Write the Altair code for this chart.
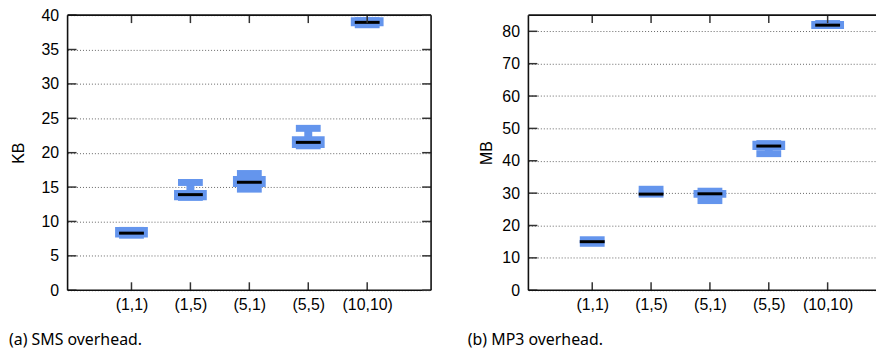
import altair as alt
import pandas as pd
import numpy as np

cats = ["(1,1)", "(1,5)", "(5,1)", "(5,5)", "(10,10)"]
pos = [1, 2, 3, 4, 5]

# SMS overhead (KB)
sms_median = [8.3, 13.9, 15.7, 21.5, 38.95]
sms_box_lo = [7.65, 13.1, 15.02, 20.69, 38.4]
sms_box_hi = [9.2, 14.58, 16.61, 22.38, 39.7]
sms_w_lo = [8.0, 13.5, 14.7, 21.0, 38.6]
sms_w_hi = [8.7, 15.67, 16.97, 23.54, 39.2]

# MP3 overhead (MB)
mp3_median = [15.0, 29.7, 29.8, 44.55, 81.9]
mp3_box_lo = [np.nan, np.nan, 28.6, 43.3, 80.7]
mp3_box_hi = [np.nan, np.nan, 31.0, 46.2, 83.2]
mp3_w_lo = [14.5, 29.7, 27.7, 42.2, 81.8]
mp3_w_hi = [15.6, 31.2, 30.6, 45.3, 82.4]

sms_yticks = [0, 5, 10, 15, 20, 25, 30, 35, 40]
mp3_yticks = [0, 10, 20, 30, 40, 50, 60, 70, 80]

BLUE = "#6495ED"
FONT = "Liberation Sans"
CAPFONT = "Noto Sans"
H = 277
STEP = 61


def panel(median, blo, bhi, wlo, whi, yticks, ymax, ytitle, width, caption,
          cap_dx, right_side, title_pad):
    xmax = width / STEP
    df = pd.DataFrame({"pos": pos, "cat": cats, "med": median, "blo": blo,
                       "bhi": bhi, "wlo": wlo, "whi": whi})
    xs = alt.Scale(domain=[0, xmax], nice=False, zero=False)
    ys = alt.Scale(domain=[0, ymax], nice=False)
    label_expr = "[" + ",".join("'%s'" % c for c in cats) + "][datum.value-1]"
    base = alt.Chart(df)
    xax = alt.Axis(values=pos, labelExpr=label_expr, grid=False, ticks=False,
                   domain=False, title="", labelFontSize=16, labelFont=FONT,
                   labelColor="black", labelPadding=6)
    yax = alt.Axis(values=yticks, grid=True, gridDash=[1, 2], gridColor="#666",
                   gridWidth=1, ticks=False, domain=False, title=ytitle,
                   titleFont=FONT, titleFontSize=16, titleFontWeight="normal",
                   titleColor="black", titlePadding=title_pad, labelFont=FONT,
                   labelFontSize=16, labelColor="black", labelPadding=9)

    def X(f="pos"):
        return alt.X(f + ":Q", scale=xs, axis=xax)

    def Y(f):
        return alt.Y(f + ":Q", scale=ys, axis=yax)

    neck = base.mark_bar(size=8, color=BLUE, orient="vertical").encode(
        x=X(), y=Y("wlo"), y2="whi:Q")
    cap_lo = base.mark_tick(size=25, thickness=7, color=BLUE, orient="horizontal",
                            opacity=1).encode(x=X(), y=Y("wlo"))
    cap_hi = base.mark_tick(size=25, thickness=7, color=BLUE, orient="horizontal",
                            opacity=1).encode(x=X(), y=Y("whi"))
    box = base.mark_bar(size=33, color=BLUE, orient="vertical").encode(
        x=X(), y=Y("blo"), y2="bhi:Q")
    med = base.mark_tick(size=25, thickness=3, color="black", orient="horizontal",
                         opacity=1).encode(x=X(), y=Y("med"))

    ydf = pd.DataFrame({"v": yticks})
    tick_col = "#333"
    ytick_l = alt.Chart(ydf).mark_rule(color=tick_col, strokeWidth=1.5).encode(
        y=Y("v"), x=alt.value(0), x2=alt.value(9))
    xtick_b = base.mark_rule(color=tick_col, strokeWidth=1.5).encode(
        x=X(), y=alt.value(H - 8), y2=alt.value(H))
    xtick_t = base.mark_rule(color=tick_col, strokeWidth=1.5).encode(
        x=X(), y=alt.value(0), y2=alt.value(8))

    one = alt.Chart(pd.DataFrame({"caption": [caption]}))
    bcol = "#111"
    b_top = one.mark_rule(color=bcol, strokeWidth=1.6).encode(
        x=alt.value(0), x2=alt.value(width), y=alt.value(0))
    b_bot = one.mark_rule(color=bcol, strokeWidth=1.6).encode(
        x=alt.value(0), x2=alt.value(width), y=alt.value(H))
    b_left = one.mark_rule(color=bcol, strokeWidth=1.6).encode(
        x=alt.value(0), y=alt.value(0), y2=alt.value(H))
    cap = one.mark_text(font=CAPFONT, fontSize=16, align="left",
                        baseline="middle", color="black").encode(
        text="caption:N", x=alt.value(cap_dx), y=alt.value(H + 50))

    layers = [neck, cap_lo, cap_hi, box, med, ytick_l, xtick_b, xtick_t,
              b_top, b_bot, b_left, cap]
    if right_side:
        ytick_r = alt.Chart(ydf).mark_rule(color=tick_col, strokeWidth=1.5).encode(
            y=Y("v"), x=alt.value(width - 9), x2=alt.value(width))
        b_right = one.mark_rule(color=bcol, strokeWidth=1.6).encode(
            x=alt.value(width), y=alt.value(0), y2=alt.value(H))
        layers += [ytick_r, b_right]
    return alt.layer(*layers).properties(width=width, height=H)


left = panel(sms_median, sms_box_lo, sms_box_hi, sms_w_lo, sms_w_hi,
             sms_yticks, 40, "KB", 366, "(a) SMS overhead.", -59, True, 15)
right = panel(mp3_median, mp3_box_lo, mp3_box_hi, mp3_w_lo, mp3_w_hi,
              mp3_yticks, 85, "MB", 350, "(b) MP3 overhead.", -61, False, 7)

chart = alt.hconcat(left, right, spacing=34).properties(
    padding={"top": -3, "left": 0, "right": 0, "bottom": 0}
).configure_view(stroke="transparent")

chart.save("out.html", embed_options={"renderer": "svg", "actions": False})
